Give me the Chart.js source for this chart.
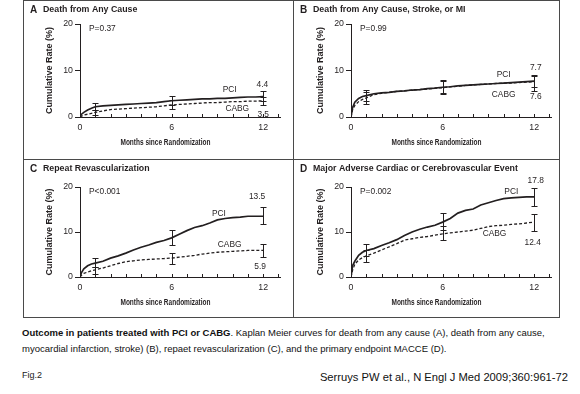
<!DOCTYPE html>
<html><head><meta charset="utf-8">
<script src="https://cdn.jsdelivr.net/npm/chart.js@4/dist/chart.umd.min.js"></script>
<style>
html,body{margin:0;padding:0;background:#fff;}
body{width:580px;height:394px;position:relative;overflow:hidden;font-family:"Liberation Sans",Arial,sans-serif;color:#231f20;}
.pane{position:absolute;}
#frame{position:absolute;left:23px;top:0;width:535px;height:316px;border:1px solid #4a4a4a;}
#vdiv{position:absolute;left:293px;top:0;width:1px;height:317px;background:#4a4a4a;}
#hdiv{position:absolute;left:23px;top:159px;width:536px;height:1px;background:#4a4a4a;}
#caption{position:absolute;left:22px;top:325px;width:560px;font-size:9.5px;line-height:16px;color:#111;white-space:nowrap;}
#fig{position:absolute;left:22px;top:370px;font-size:9px;color:#222;}
#src{position:absolute;right:12px;top:371px;font-size:11.2px;color:#111;white-space:nowrap;}
</style></head>
<body>
<canvas id="cA" class="pane" width="270" height="159" style="left:23px;top:0"></canvas>
<canvas id="cB" class="pane" width="266" height="159" style="left:293px;top:0"></canvas>
<canvas id="cC" class="pane" width="270" height="158" style="left:23px;top:159px"></canvas>
<canvas id="cD" class="pane" width="266" height="158" style="left:293px;top:159px"></canvas>
<div id="frame"></div><div id="vdiv"></div><div id="hdiv"></div>
<div id="caption"><b>Outcome in patients treated with PCI or CABG</b>. Kaplan Meier curves for death from any cause (A), death from any cause,<br>myocardial infarction, stroke) (B), repaet revascularization (C), and the primary endpoint MACCE (D).</div>
<div id="fig">Fig.2</div>
<div id="src">Serruys PW et al., N Engl J Med 2009;360:961-72</div>
<script>
// ---------------- data ----------------
const months = [0,0.1,0.25,0.5,0.75,1,1.5,2,2.5,3,3.5,4,4.5,5,5.5,6,6.5,7,7.5,8,8.5,9,9.5,10,10.5,11,11.5,12];

const deathPCI  = [0,0.6,1.0,1.5,1.9,2.2,2.4,2.5,2.6,2.7,2.8,2.9,3.0,3.1,3.3,3.5,3.6,3.7,3.8,3.9,3.9,4.0,4.0,4.1,4.2,4.3,4.3,4.4];
const deathCABG = [0,0.2,0.4,0.6,0.8,1.0,1.3,1.6,1.7,1.8,1.9,2.0,2.1,2.2,2.4,2.6,2.7,2.8,2.9,3.0,3.1,3.1,3.2,3.3,3.3,3.4,3.4,3.5];

const dsmPCI  = [0,2.0,3.2,4.0,4.4,4.6,5.0,5.2,5.3,5.5,5.6,5.8,5.9,6.1,6.2,6.4,6.5,6.7,6.8,6.9,7.0,7.1,7.2,7.3,7.4,7.5,7.6,7.7];
const dsmCABG = [0,1.5,2.5,3.3,3.8,4.1,4.8,5.1,5.3,5.5,5.6,5.8,5.9,6.0,6.2,6.3,6.5,6.6,6.8,6.9,7.0,7.1,7.2,7.3,7.3,7.4,7.5,7.6];

const revascPCI  = [0,1.0,1.8,2.5,2.9,3.1,3.5,4.2,4.7,5.3,6.0,6.6,7.1,7.7,8.1,8.7,9.5,10.3,11.0,11.4,12.0,12.7,13.0,13.2,13.3,13.5,13.5,13.5];
const revascCABG = [0,0.4,0.8,1.1,1.4,1.6,2.0,2.5,3.0,3.4,3.6,3.8,3.9,4.0,4.1,4.2,4.4,4.6,4.8,5.1,5.3,5.5,5.6,5.7,5.8,5.9,5.9,5.9];

const maccePCI  = [0,2.5,3.5,4.8,5.5,5.9,6.3,7.0,7.6,8.3,9.2,10.0,10.6,11.1,11.5,12.2,13.0,14.2,14.8,15.1,16.0,16.5,17.0,17.4,17.6,17.7,17.8,17.8];
const macceCABG = [0,1.5,2.8,3.8,4.3,4.7,5.3,6.0,6.7,7.4,8.2,8.5,8.8,9.0,9.3,9.6,9.8,10.0,10.2,10.4,10.8,11.2,11.4,11.5,11.7,11.8,12.0,12.2];

// 95% CI bars at 1, 6 and 12 months
const ciMonths = [1, 6, 12];
const deathPCILo = [1.4,2.6,3.4],  deathPCIHi = [3.0,4.5,5.5];
const deathCABGLo = [0.5,1.8,2.6], deathCABGHi = [1.6,3.6,4.4];
const dsmPCILo = [3.5,5.2,6.5],    dsmPCIHi = [5.9,7.9,9.0];
const dsmCABGLo = [2.9,5.0,5.6],   dsmCABGHi = [5.3,7.7,8.9];
const revascPCILo = [2.2,7.2,11.7], revascPCIHi = [4.2,10.4,15.6];
const revascCABGLo = [0.7,2.9,4.5], revascCABGHi = [2.2,5.4,7.3];
const maccePCILo = [4.6,10.5,15.8], maccePCIHi = [7.3,14.2,19.8];
const macceCABGLo = [3.4,8.2,10.3], macceCABGHi = [6.0,11.3,14.1];

// tick labels and texts
const xTickLabels = [0, 6, 12];
const yTickValues = [0, 10, 20];
const panelLetters = ['A','B','C','D'];
const panelTitles = ['Death from Any Cause','Death from Any Cause, Stroke, or MI','Repeat Revascularization','Major Adverse Cardiac or Cerebrovascular Event'];
const pValues = ['P=0.37','P=0.99','P<0.001','P=0.002'];
const endValuesPCI = ['4.4','7.7','13.5','17.8'];
const endValuesCABG = ['3.5','7.6','5.9','12.4'];
const groupNames = ['PCI','CABG'];

// ---------------- layout / style ----------------
const INK = '#231f20';
const FONT = '"Liberation Sans", Arial, sans-serif';
Chart.defaults.font.family = FONT;
Chart.defaults.color = INK;

// label anchor points in data units [month, rate]
const labelAnchors = [
  {pci:[9.8,5.9],  pciEnd:[11.95,7.0],  cabg:[10.3,1.7], cabgEnd:[12.0,0.4]},
  {pci:[10.0,9.0], pciEnd:[12.1,10.6],  cabg:[10.0,4.9], cabgEnd:[12.1,4.3]},
  {pci:[9.1,14.1], pciEnd:[11.6,17.9],  cabg:[9.8,7.1],  cabgEnd:[11.8,2.4]},
  {pci:[10.5,18.9],pciEnd:[12.1,21.4],  cabg:[9.4,9.6],  cabgEnd:[11.9,7.6]}
];
const boxes = [
  {id:'cA', padT:24, padR:13, yW:57, xH:42},
  {id:'cB', padT:24, padR:8,  yW:58, xH:42},
  {id:'cC', padT:28, padR:13, yW:57, xH:40},
  {id:'cD', padT:28, padR:8,  yW:58, xH:40}
];

function txt(ctx, s, x, y, font, align, sx) {
  ctx.save();
  ctx.font = font; ctx.textAlign = align || 'left'; ctx.textBaseline = 'middle';
  ctx.translate(x, y); ctx.scale(sx || 1, 1);
  ctx.fillText(s, 0, 0);
  ctx.restore();
}

function makePanel(i, pci, cabg, ci) {
  const box = boxes[i], anc = labelAnchors[i];
  const decor = {
    id: 'kmDecor' + i,
    afterDraw(chart) {
      const {ctx, chartArea: ca, scales: {x, y}} = chart;
      ctx.save();
      ctx.strokeStyle = INK; ctx.fillStyle = INK; ctx.lineWidth = 1;
      // inward monthly ticks on x axis
      for (let m = 0; m <= 13; m++) {
        const px = Math.round(x.getPixelForValue(m)) + 0.5;
        ctx.beginPath(); ctx.moveTo(px, ca.bottom); ctx.lineTo(px, ca.bottom - 3); ctx.stroke();
      }
      // CI bars
      ci.forEach(s => {
        ciMonths.forEach((m, k) => {
          const px = Math.round(x.getPixelForValue(m)) + 0.5;
          const y1 = Math.round(y.getPixelForValue(s.lo[k])) + 0.5;
          const y2 = Math.round(y.getPixelForValue(s.hi[k])) + 0.5;
          ctx.beginPath();
          ctx.moveTo(px, y1); ctx.lineTo(px, y2);
          ctx.moveTo(px - 3, y1); ctx.lineTo(px + 3, y1);
          ctx.moveTo(px - 3, y2); ctx.lineTo(px + 3, y2);
          ctx.stroke();
        });
      });
      // panel title
      txt(ctx, panelLetters[i], 7, 10, 'bold 10px ' + FONT, 'left');
      txt(ctx, panelTitles[i], 20, 10, 'bold 8.8px ' + FONT, 'left');
      // axis titles
      ctx.save();
      ctx.translate(ca.left - 30, (ca.top + ca.bottom) / 2);
      ctx.rotate(-Math.PI / 2);
      txt(ctx, 'Cumulative Rate (%)', 0, 0, 'bold 9px ' + FONT, 'center', 1);
      ctx.restore();
      txt(ctx, 'Months since Randomization', x.getPixelForValue(5.6), ca.bottom + 26, 'bold 8.8px ' + FONT, 'center', 0.74);
      // P value
      txt(ctx, pValues[i], ca.left + 9, ca.top + 5, '8.4px ' + FONT, 'left');
      // group labels and end values
      const f = '8.4px ' + FONT;
      txt(ctx, groupNames[0], x.getPixelForValue(anc.pci[0]), y.getPixelForValue(anc.pci[1]), f, 'center');
      txt(ctx, groupNames[1], x.getPixelForValue(anc.cabg[0]), y.getPixelForValue(anc.cabg[1]), f, 'center');
      txt(ctx, endValuesPCI[i], x.getPixelForValue(anc.pciEnd[0]), y.getPixelForValue(anc.pciEnd[1]), f, 'center');
      txt(ctx, endValuesCABG[i], x.getPixelForValue(anc.cabgEnd[0]), y.getPixelForValue(anc.cabgEnd[1]), f, 'center');
      ctx.restore();
    }
  };
  return new Chart(document.getElementById(box.id), {
    type: 'line',
    data: {
      datasets: [
        {label: groupNames[0], data: months.map((m, k) => ({x: m, y: pci[k]})), borderColor: INK, borderWidth: 1.7, pointRadius: 0, tension: 0, fill: false},
        {label: groupNames[1], data: months.map((m, k) => ({x: m, y: cabg[k]})), borderColor: INK, borderWidth: 1.3, borderDash: [3, 2], pointRadius: 0, tension: 0, fill: false}
      ]
    },
    options: {
      responsive: false, animation: false, devicePixelRatio: 1,
      layout: {padding: {left: 0, right: box.padR, top: box.padT, bottom: 0}},
      plugins: {legend: {display: false}, tooltip: {enabled: false}, title: {display: false}},
      scales: {
        x: {
          type: 'linear', min: 0, max: 13.1,
          afterFit: s => { s.height = box.xH; },
          ticks: {stepSize: 1, autoSkip: false, maxRotation: 0, padding: 5, font: {size: 8.8}, color: INK,
                  callback: v => xTickLabels.includes(v) ? String(v) : ''},
          grid: {display: true, drawOnChartArea: false, drawTicks: false},
          border: {display: true, color: INK, width: 1}
        },
        y: {
          type: 'linear', min: yTickValues[0], max: yTickValues[yTickValues.length - 1],
          afterFit: s => { s.width = box.yW; },
          afterBuildTicks: s => { s.ticks = yTickValues.map(v => ({value: v})); },
          ticks: {padding: 2, font: {size: 8.8}, color: INK},
          grid: {display: true, drawOnChartArea: false, drawTicks: true, tickLength: 5, color: INK},
          border: {display: true, color: INK, width: 1}
        }
      }
    },
    plugins: [decor]
  });
}

makePanel(0, deathPCI, deathCABG, [{lo: deathPCILo, hi: deathPCIHi}, {lo: deathCABGLo, hi: deathCABGHi}]);
makePanel(1, dsmPCI, dsmCABG, [{lo: dsmPCILo, hi: dsmPCIHi}, {lo: dsmCABGLo, hi: dsmCABGHi}]);
makePanel(2, revascPCI, revascCABG, [{lo: revascPCILo, hi: revascPCIHi}, {lo: revascCABGLo, hi: revascCABGHi}]);
makePanel(3, maccePCI, macceCABG, [{lo: maccePCILo, hi: maccePCIHi}, {lo: macceCABGLo, hi: macceCABGHi}]);
</script>
</body></html>
